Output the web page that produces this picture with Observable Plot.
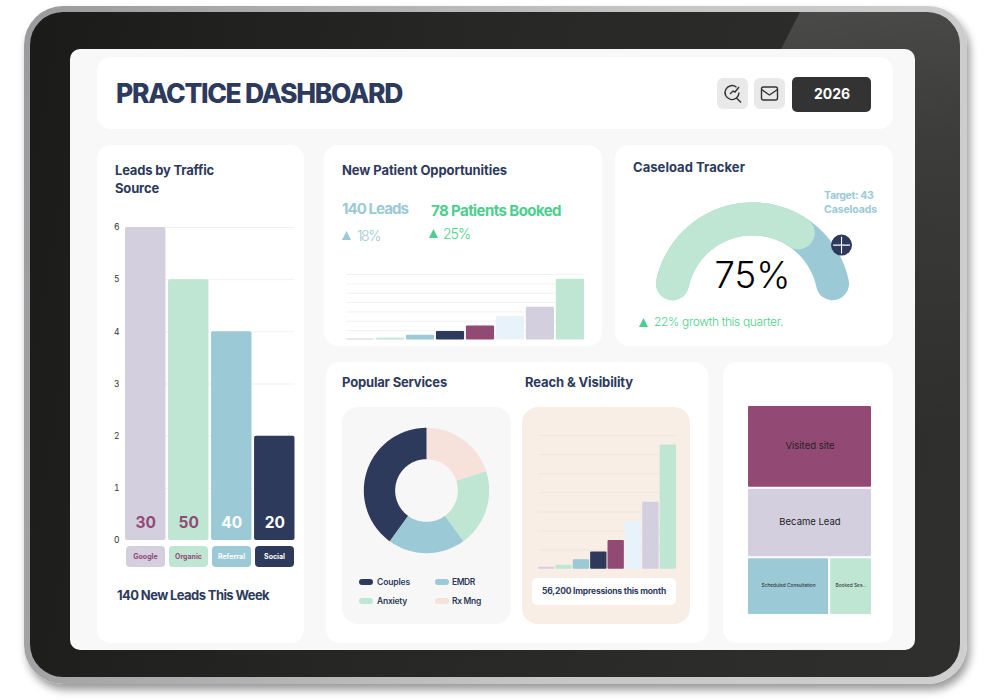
<!DOCTYPE html>
<html><head><meta charset="utf-8">
<script src="https://cdn.jsdelivr.net/npm/d3@7"></script>
<script src="https://cdn.jsdelivr.net/npm/@observablehq/plot@0.6"></script>
<style>
html,body{margin:0;padding:0;background:#fff;width:1000px;height:700px;overflow:hidden;font-family:Inter,sans-serif;}
#stage{position:relative;width:1000px;height:700px;overflow:hidden;}
.abs{position:absolute;}
.t{position:absolute;white-space:nowrap;line-height:1;}
.card{position:absolute;background:#fff;border-radius:14px;}
svg{overflow:visible;}
svg text{font-family:Inter,sans-serif;}
#frame{position:absolute;left:24px;top:6px;width:943px;height:678px;border-radius:39px;box-sizing:border-box;background:linear-gradient(100deg,#9b9b9d,#c6c6c7 60%,#cfcfd0);box-shadow:3px 6px 8px rgba(0,0,0,.4);}
#bezel{position:absolute;left:30px;top:12px;width:930px;height:665px;border-radius:33px;overflow:hidden;background:linear-gradient(100deg,#1b1b1a 0%,#262625 40%,#2c2c2b 75%,#2f2f2e 100%);}
#glare{position:absolute;left:680px;top:0;width:250px;height:420px;background:linear-gradient(170deg,rgba(255,255,255,.15),rgba(255,255,255,.07) 35%,rgba(255,255,255,0) 100%);clip-path:polygon(90px 0,250px 0,250px 420px,-125px 420px);}
#screen{position:absolute;left:70px;top:49px;width:845px;height:601px;border-radius:10px;background:#f8f8f8;}
</style></head><body>
<div id="stage"></div>
<script>
// ---------- data ----------
const sources = ["Google", "Organic", "Referral", "Social"];
const sourceBars = [6, 5, 4, 2];
const sourceLeads = [30, 50, 40, 20];
const sourceColors = ["#d3cfdf", "#bfe6d3", "#9bc9d6", "#2d3a5c"];
const sourceInk = ["#924a75", "#924a75", "#ffffff", "#ffffff"];

const growthSteps = ["a", "b", "c", "d", "e", "f", "g", "h"];
const opportunityValues = [0.1, 0.2, 0.5, 0.9, 1.5, 2.5, 3.5, 6.5];
const reachValues = [0.1, 0.2, 0.5, 0.9, 1.5, 2.5, 3.5, 6.5];
const growthColors = ["#d3cfdf", "#bfe6d3", "#9bc9d6", "#2d3a5c", "#924a75", "#e8f2fb", "#d3cfdf", "#bfe6d3"];
const gridTicks = [1, 2, 3, 4, 5, 6, 7];

const services = ["Rx Mng", "Anxiety", "EMDR", "Couples"];
const serviceValues = [20, 20, 20, 40];
const serviceColors = ["#f6e2da", "#bfe6d3", "#9bc9d6", "#2d3a5c"];
const legendOrder = ["Couples", "EMDR", "Anxiety", "Rx Mng"];
const legendWidths = [33, 22.7, 30, 29];

const gaugeStart = -78, gaugeEnd = 78, gaugeProgress = 34, gaugeTarget = 58;

const funnelLabels = ["Visited site", "Became Lead", "Scheduled Consultation", "Booked Ses..."];
const funnelValues = [100, 84, 46, 24];
const funnelColors = ["#924a75", "#d3cfdf", "#9bc9d6", "#bfe6d3"];

// ---------- layout helpers ----------
const stage = document.getElementById("stage");
const FONT = "Inter, sans-serif";
function box(cls, l, t, w, h, extra = "") {
  const d = document.createElement("div");
  d.className = cls;
  d.style.cssText = `left:${l}px;top:${t}px;width:${w}px;height:${h}px;${extra}`;
  stage.appendChild(d);
  return d;
}
// text whose letter-spacing is fitted to the width it has in the picture
function text(str, l, cy, size, weight, color, fit) {
  const d = document.createElement("div");
  d.className = "t";
  d.textContent = str;
  d.style.cssText = `left:${l}px;top:${cy - size / 2}px;font-size:${size}px;font-weight:${weight};color:${color};`;
  stage.appendChild(d);
  if (fit) d.style.letterSpacing = ((fit - d.getBoundingClientRect().width) / str.length).toFixed(3) + "px";
  return d;
}
function heading(str, l, cy, fit) { return text(str, l, cy, 13, 700, "#2d3a5c", fit); }
function place(plot, l, t) {
  plot.style.position = "absolute";
  plot.style.left = l + "px";
  plot.style.top = t + "px";
  plot.style.background = "transparent";
  plot.style.overflow = "visible";
  stage.appendChild(plot);
}
function triangle(l, t, w, h, color) {
  return box("abs", l, t, w, h, `background:${color};clip-path:polygon(50% 0,100% 100%,0 100%);`);
}

// ---------- frame ----------
const fr = document.createElement("div"); fr.id = "frame"; stage.appendChild(fr);
const bz = document.createElement("div"); bz.id = "bezel"; bz.innerHTML = '<div id="glare"></div>'; stage.appendChild(bz);
const sc = document.createElement("div"); sc.id = "screen"; stage.appendChild(sc);

// ---------- cards ----------
box("card", 97, 57, 796, 72);
box("card", 97, 145, 207, 498);
box("card", 324, 145, 278, 201);
box("card", 615, 145, 278, 201);
box("card", 326, 362, 382, 281);
box("card", 723, 362, 170, 281);
box("abs", 342, 407, 169, 217, "background:#f7f7f7;border-radius:16px;");
box("abs", 522, 407, 168, 217, "background:#f9eee5;border-radius:16px;");

// ---------- header ----------
text("PRACTICE DASHBOARD", 116, 93, 26.5, 800, "#2d3a5c", 286);
const b1 = box("abs", 717, 78, 31, 31, "background:#e9e9e9;border-radius:6px;");
b1.innerHTML = '<svg width="31" height="31" viewBox="0 0 31 31" fill="none" stroke="#333" stroke-width="1.4"><path d="M19.5 9.2A7 7 0 1 0 22 14.5"/><path d="M13 16l3-3 2 1 4-5"/><path d="M19.5 20l4.5 4.5"/></svg>';
const b2 = box("abs", 754, 78, 31, 31, "background:#e9e9e9;border-radius:6px;");
b2.innerHTML = '<svg width="31" height="31" viewBox="0 0 31 31" fill="none" stroke="#333" stroke-width="1.4"><rect x="7.5" y="9" width="16" height="13" rx="2"/><path d="M7.5 11.5l8 5.5 8-5.5"/></svg>';
box("abs", 792, 77, 79, 35, "background:#333;border-radius:5px;");
text("2026", 814, 94, 14, 700, "#fff");

// ---------- leads by traffic source ----------
heading("Leads by Traffic", 115, 170, 99);
heading("Source", 115, 188, 44);
const leadRows = sources.map((s, i) => ({source: s, bar: sourceBars[i], leads: sourceLeads[i], ink: sourceInk[i]}));
place(Plot.plot({
  width: 200, height: 325, marginLeft: 25, marginRight: 5.5, marginTop: 7, marginBottom: 5,
  style: {fontFamily: FONT},
  x: {domain: sources, paddingInner: 0.06, paddingOuter: 0, round: false, axis: null},
  y: {domain: [0, 6], axis: null},
  color: {domain: sources, range: sourceColors},
  marks: [
    Plot.ruleY([1, 2, 3, 4, 5, 6], {stroke: "#f1f1f1", strokeWidth: 1}),
    Plot.barY(leadRows, {x: "source", y: "bar", fill: "source", rx: 2}),
    Plot.axisY({ticks: [0, 1, 2, 3, 4, 5, 6], tickFormat: d => d, tickSize: 0, tickPadding: 6, fontSize: 8.5, fill: "#333", label: null, marginLeft: 25}),
    Plot.text(leadRows, {x: "source", y: () => 0, dy: -17, text: d => String(d.leads), fill: "ink", fontSize: 15.5, fontWeight: 700})
  ]
}), 100, 220);
sources.forEach((s, i) => {
  const p = box("abs", 126 + i * 43, 546, 39, 21, `background:${sourceColors[i]};border-radius:4px;display:flex;align-items:center;justify-content:center;`);
  p.textContent = s;
  p.style.color = sourceInk[i];
  p.style.fontSize = "7px";
  p.style.fontWeight = "700";
});
heading("140 New Leads This Week", 117, 595, 152);

// ---------- new patient opportunities ----------
heading("New Patient Opportunities", 342, 170, 165);
text("140 Leads", 342, 208.5, 15, 700, "#9bc9d6", 66);
triangle(342, 231, 9, 9, "#9bc9d6");
text("18%", 357, 236, 14, 300, "#9bc9d6", 23);
text("78 Patients Booked", 431, 210.5, 15, 700, "#4ccf8c", 130);
triangle(429, 229, 9, 9, "#4ccf8c");
text("25%", 443, 233.5, 14, 300, "#4ccf8c", 27);

function growthPlot(values, w, h, gridColor) {
  const rows = growthSteps.map((s, i) => ({step: s, value: values[i]}));
  return Plot.plot({
    width: w, height: h, margin: 0,
    x: {domain: growthSteps, paddingInner: 0.06, paddingOuter: 0, round: false, axis: null},
    y: {domain: [0, 7], axis: null},
    color: {domain: growthSteps, range: growthColors},
    marks: [
      Plot.ruleY(gridTicks, {stroke: gridColor, strokeWidth: 1}),
      Plot.barY(rows, {x: "step", y: "value", fill: "step", rx: 1})
    ]
  });
}
place(growthPlot(opportunityValues, 238, 65.5, "#f1f1f1"), 346, 274.3);

// ---------- caseload tracker ----------
heading("Caseload Tracker", 633, 167, 112);
text("Target: 43", 824, 196, 10.5, 700, "#9bc9d6", 49.5);
text("Caseloads", 824, 210, 10.5, 700, "#9bc9d6", 53);
const polar = (deg, r = 1) => ({x: r * Math.sin(deg * Math.PI / 180), y: r * Math.cos(deg * Math.PI / 180)});
const arcPts = (a, b) => d3.range(a, b + 0.5, 1).map(d => polar(d));
place(Plot.plot({
  width: 224, height: 124, margin: 0,
  style: {fontFamily: FONT},
  x: {domain: [-1.369, 1.369], axis: null},
  y: {domain: [-0.1687, 1.347], axis: null},
  marks: [
    Plot.line(arcPts(gaugeStart, gaugeEnd), {x: "x", y: "y", stroke: "#9bc9d6", strokeWidth: 33, strokeLinecap: "round"}),
    Plot.line(arcPts(gaugeStart, gaugeProgress), {x: "x", y: "y", stroke: "#bfe6d3", strokeWidth: 33, strokeLinecap: "round"}),
    Plot.dot([polar(gaugeTarget, 1.283)], {x: "x", y: "y", r: 10.5, fill: "#2d3a5c"}),
    Plot.dot([polar(gaugeTarget, 1.283)], {x: "x", y: "y", r: 5.5, symbol: "plus", stroke: "#fff", strokeWidth: 1.1}),
    Plot.text([{x: 0, y: 0.3}], {x: "x", y: "y", text: () => "75%", fontSize: 36.5, fontWeight: 300, fill: "#000"})
  ]
}), 640, 190);
triangle(639, 318, 9, 9, "#4ccf8c");
text("22% growth this quarter.", 654, 322, 12, 300, "#4ccf8c", 129);

// ---------- popular services ----------
heading("Popular Services", 342, 382, 105);
heading("Reach & Visibility", 525, 382, 108);
const inner = 0.5;
const donut = d3.pie().sort(null).value(d => d)(serviceValues).flatMap((a, i) => {
  const s = a.startAngle * 180 / Math.PI, e = a.endAngle * 180 / Math.PI;
  const out = d3.range(s, e + 0.01, 1).map(d => polar(d));
  const inn = d3.range(e, s - 0.01, -1).map(d => polar(d, inner));
  return [...out, ...inn].map(p => ({...p, service: services[i]}));
});
place(Plot.plot({
  width: 130, height: 130, margin: 0,
  x: {domain: [-1.037, 1.037], axis: null},
  y: {domain: [-1.037, 1.037], axis: null},
  color: {domain: services, range: serviceColors},
  marks: [Plot.line(donut, {x: "x", y: "y", z: "service", fill: "service", stroke: null})]
}), 361.3, 425);
legendOrder.forEach((s, i) => {
  const col = i % 2, row = Math.floor(i / 2);
  const sx = 359 + col * 76, cy = 582 + row * 19;
  box("abs", sx, cy - 3, 14, 6, `background:${serviceColors[services.indexOf(s)]};border-radius:3px;`);
  text(s, sx + 18 - col, cy, 8.5, 600, "#2d3a5c", legendWidths[i]);
});

// ---------- reach ----------
place(growthPlot(reachValues, 138, 133.7, "#f1e5dc"), 538, 435.3);
box("abs", 532, 578, 144, 27, "background:#fff;border-radius:5px;");
text("56,200 Impressions this month", 542, 591.5, 8.5, 700, "#2d3a5c", 124);

// ---------- funnel treemap ----------
const funnelTree = {children: [
  {label: funnelLabels[0], value: funnelValues[0]},
  {label: funnelLabels[1], value: funnelValues[1]},
  {children: [{label: funnelLabels[2], value: funnelValues[2]}, {label: funnelLabels[3], value: funnelValues[3]}]}
]};
const root = d3.treemap().size([123, 208]).paddingInner(2).round(false)
  .tile((node, x0, y0, x1, y1) => (node.depth & 1 ? d3.treemapDice : d3.treemapSlice)(node, x0, y0, x1, y1))(
    d3.hierarchy(funnelTree).sum(d => d.value || 0)
  );
const tiles = root.leaves().map(n => ({...n.data, x0: n.x0, x1: n.x1, y0: n.y0, y1: n.y1}));
place(Plot.plot({
  width: 123, height: 208, margin: 0,
  style: {fontFamily: FONT},
  x: {domain: [0, 123], axis: null},
  y: {domain: [208, 0], axis: null},
  color: {domain: funnelLabels, range: funnelColors},
  marks: [
    Plot.rect(tiles, {x1: "x0", x2: "x1", y1: "y0", y2: "y1", fill: "label", rx: 1}),
    Plot.text(tiles.filter(d => d.value >= 80), {x: d => (d.x0 + d.x1) / 2, y: d => (d.y0 + d.y1) / 2 - 1, text: "label", fontSize: 9.5, fill: "#222"}),
    Plot.text(tiles.filter(d => d.value < 80), {x: d => (d.x0 + d.x1) / 2, y: d => (d.y0 + d.y1) / 2 - 1, text: "label", fontSize: 4.8, fill: "#222"})
  ]
}), 748, 405.5);
</script>
</body></html>
